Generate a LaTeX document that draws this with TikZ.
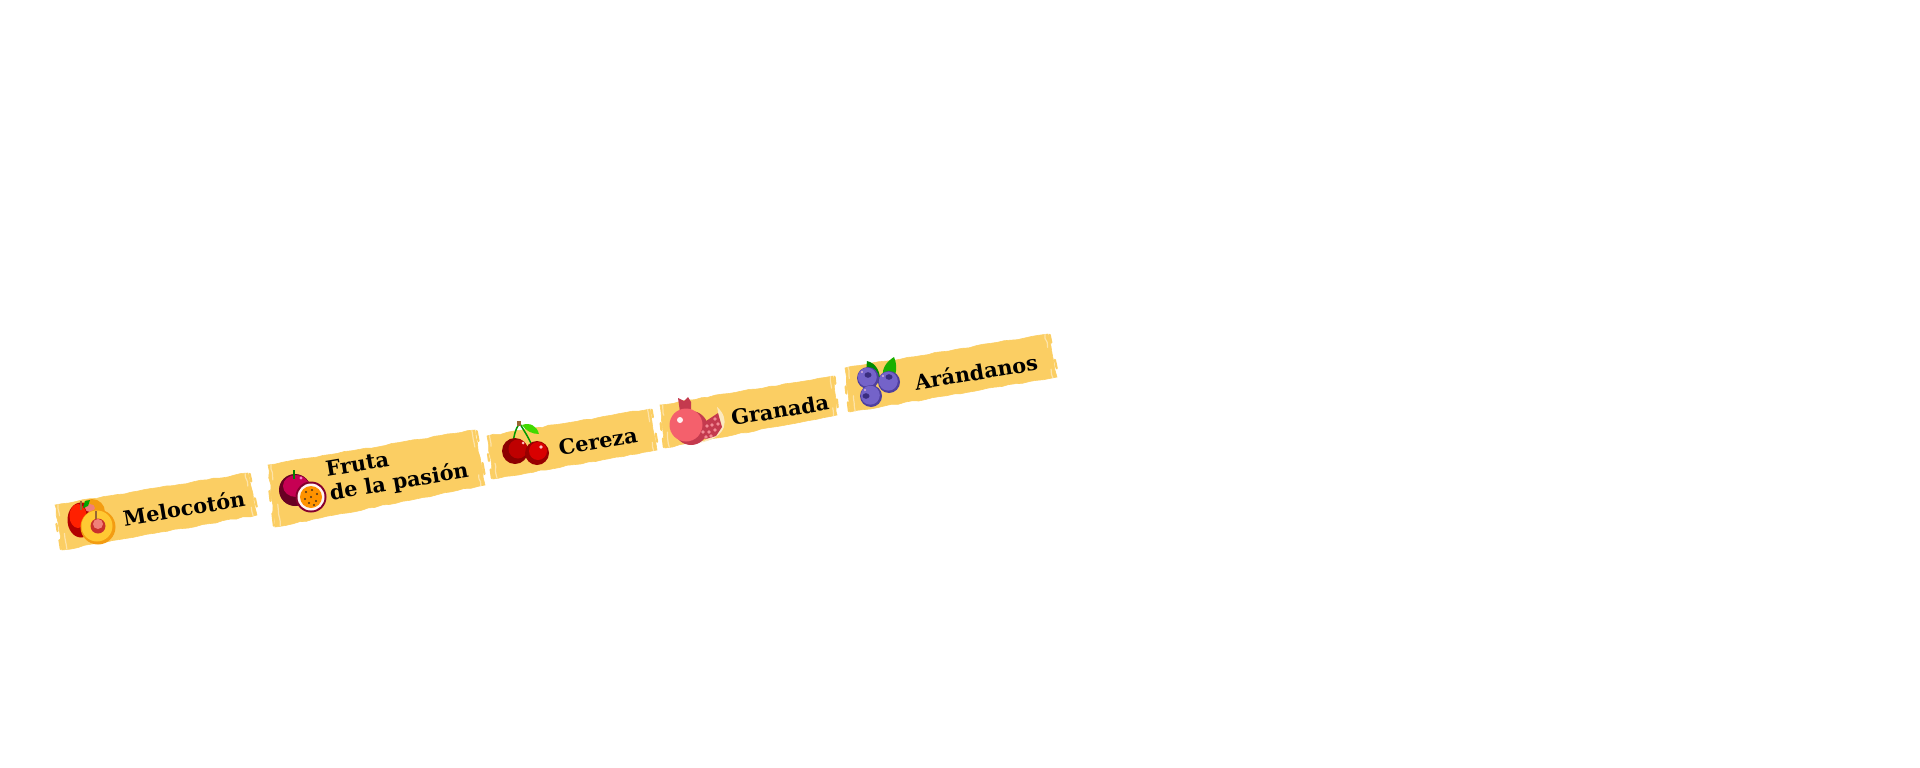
\documentclass[tikz,border=0pt]{standalone}
\usepackage{fontspec}
\setmainfont{DejaVu Serif}
\usetikzlibrary{positioning, calc, decorations.pathmorphing}
\definecolor{tapeyellow}{HTML}{FBCE63}
\definecolor{tapepale}{HTML}{FDE3A8}
\definecolor{berrydark}{HTML}{4F3F9E}
\definecolor{berrymid}{HTML}{7463C9}
\definecolor{berryhole}{HTML}{3A2D80}
\definecolor{peachflesh}{HTML}{FFC933}
\definecolor{peachrim}{HTML}{F39C12}
\definecolor{peachpit}{HTML}{C9302C}
\definecolor{peachpitlight}{HTML}{F0807A}
\definecolor{granbody}{HTML}{F4606C}
\definecolor{granshade}{HTML}{C43A4E}
\definecolor{granseed}{HTML}{F28A94}
\definecolor{granpith}{HTML}{FBE9C0}
\tikzstyle{tape} = [fill=tapeyellow, draw=tapeyellow, line width=0.6pt, decorate, decoration={random steps, segment length=7pt, amplitude=0.7pt}]
\tikzstyle{fray} = [draw=tapepale, line width=1.2pt, line cap=round, decorate, decoration={random steps, segment length=4pt, amplitude=0.7pt}]
\tikzstyle{nub} = [draw=tapeyellow, line width=2.2pt, line cap=round]
\tikzstyle{label} = [font=\bfseries\fontsize{20.8}{24}\selectfont, text=black, rotate=9.5, inner sep=0pt, align=left]
\newcommand{\tapestrip}[4]{%
	\draw [tape] (#1) -- (#2) -- (#3) -- (#4) -- cycle;
	% frayed ends
	\draw [nub] ($(#1)!0.42!(#4)+(-1.5,0)$) -- ($(#1)!0.58!(#4)+(-1.5,0)$);
	\draw [nub] ($(#4)!0.02!(#1)+(-1,0)$) -- ($(#4)!0.22!(#1)+(-1,0)$);
	\draw [nub] ($(#2)!0.02!(#3)+(1.5,0)$) -- ($(#2)!0.2!(#3)+(1.5,0)$);
	\draw [nub] ($(#3)!0.2!(#2)+(1.5,0)$) -- ($(#3)!0.4!(#2)+(1.5,0)$);
	\draw [fray] ($(#1)!0.015!(#2)$) -- ($(#1)!0.015!(#2)!0.25!($(#4)!0.015!(#3)$)$);
	\draw [fray] ($(#4)!0.025!(#3)$) -- ($(#4)!0.025!(#3)!0.35!($(#1)!0.025!(#2)$)$);
	\draw [fray] ($(#2)!0.015!(#1)$) -- ($(#2)!0.015!(#1)!0.3!($(#3)!0.015!(#4)$)$);
	\draw [fray] ($(#3)!0.02!(#4)$) -- ($(#3)!0.02!(#4)!0.2!($(#2)!0.02!(#1)$)$);
}
\begin{document}
\begin{tikzpicture}[x=1pt, y=-1pt]
	\useasboundingbox (0,0) rectangle (1920,768);
	\pgfmathsetseed{7}
	
	% Tape strips
	\tapestrip{55,505}{248,473}{257,515}{62,550}
	\tapestrip{268,465}{475,430}{485,485}{275,527}
	\tapestrip{487,436}{650,409}{657,450}{493,479}
	\tapestrip{660,405}{833,376}{837,415}{665,448}
	\tapestrip{845,368}{1048,334}{1057,377}{850,412}
	
	% Peach
	\fill [fill=peachrim] (92,512) circle (13);
	\fill [fill=red!70!black] (81,520) ellipse (13.5 and 17.5);
	\fill [fill=red!75!orange] (78,516) ellipse (8.5 and 12);
	\fill [fill=peachpitlight] (90,508) ellipse (5 and 4);
	\draw [draw=brown!80!black, line width=2pt] (81,510) -- (81,501);
	\fill [fill=green!65!black] (83,508) -- (85,501) -- (90,500) -- (88,506) -- cycle;
	\fill [fill=peachrim] (98,527) circle (17.5);
	\fill [fill=peachflesh] (97,526) circle (15.5);
	\fill [fill=peachpit] (98,526) circle (7.5);
	\fill [fill=peachpitlight] (98,524) circle (5);
	\draw [draw=brown!80!black, line width=2pt] (96,519) -- (96,511);
	
	% Passion fruit
	\fill [fill=black!45!purple] (295,490) circle (16);
	\fill [fill=purple!90!magenta] (296,486) ellipse (13 and 11);
	\fill [fill=white!50!magenta] (301,478) circle (1.6);
	\draw [draw=green!50!black, line width=2.4pt] (294,479) -- (294,470);
	\fill [fill=black!30!purple] (311,497) circle (15.5);
	\fill [fill=white!85!pink] (311,497) circle (13.5);
	\fill [fill=orange!85!yellow] (311,497) circle (11);
	\foreach \sx/\sy in {306/492, 312/490, 317/494, 305/499, 311/497, 316/501, 309/503, 314/505}
		\fill [fill=black!60!brown] (\sx,\sy) circle (1.1);
	
	% Cherry
	\draw [draw=green!60!black, line width=1.5pt] (519,424) .. controls (515,430) and (514,436) .. (513,443);
	\draw [draw=green!60!black, line width=1.5pt] (520,424) .. controls (525,432) and (530,440) .. (533,448);
	\fill [fill=brown!80!black] (517,421) rectangle (521,426);
	\fill [fill=green!70!yellow!85!black] (522,425) .. controls (530,422) and (537,426) .. (539,434) .. controls (532,434) and (526,431) .. (522,425) -- cycle;
	\fill [fill=red!55!black] (515,451) circle (13);
	\fill [fill=red!75!black] (518,449) circle (9.5);
	\fill [fill=red!60!black] (537,453) circle (12);
	\fill [fill=red!85!black] (538,451) circle (9);
	\fill [fill=pink] (541,447) circle (1.8);
	\fill [fill=pink] (523,443) circle (1.5);
	
	% Pomegranate
	\fill [fill=granpith] (717,407) .. controls (730,418) and (728,438) .. (699,443) .. controls (714,438) and (722,425) .. (717,407) -- cycle;
	\fill [fill=granshade] (678,398) -- (684,401) -- (688,397) -- (691,402) -- (691,412) -- (680,412) -- cycle;
	\fill [fill=granshade] (691,428) circle (17);
	\fill [fill=granbody] (686,425) circle (16.5);
	\fill [fill=white!80!pink] (680,420) circle (3);
	\fill [fill=granshade] (699,436) -- (706,421) -- (718,413) -- (722,427) -- (716,436) -- (706,439) -- cycle;
	\foreach \sx/\sy in {703/432, 709/432, 715/430, 718/424, 712/425, 707/426, 715/419, 706/437, 711/436}
		\fill [fill=granseed] (\sx,\sy) circle (1.8);
	
	% Blueberries
	\fill [fill=green!55!black] (872,383) .. controls (866,378) and (866,370) .. (867,361) .. controls (876,363) and (881,372) .. (880,383) -- cycle;
	\fill [fill=green!65!black!90!yellow] (884,381) .. controls (880,370) and (886,362) .. (894,357) .. controls (898,366) and (896,376) .. (892,382) -- cycle;
	\foreach \bx/\by/\hx/\hy in {868/378/868/375, 889/382/889/377, 871/396/866/396} {
		\fill [fill=berrydark] (\bx,\by) circle (11);
		\fill [fill=berrymid] (\bx-0.7,\by-0.8) circle (9.5);
		\fill [fill=berryhole] (\hx,\hy) ellipse (3.5 and 2.8);
		\fill [fill=white!70!violet] (\bx-6,\by-6) circle (1.2);
	}
	
	% Labels
	\node (melocoton) [label] at (184,508) {Melocotón};
	\node (pasion) [label, anchor=west] at (328,483) {Fruta\\de la pasión};
	\node (cereza) [label] at (598,441) {Cereza};
	\node (granada) [label] at (780,410) {Granada};
	\node (arandanos) [label] at (976,372) {Arándanos};
\end{tikzpicture}
\end{document}
